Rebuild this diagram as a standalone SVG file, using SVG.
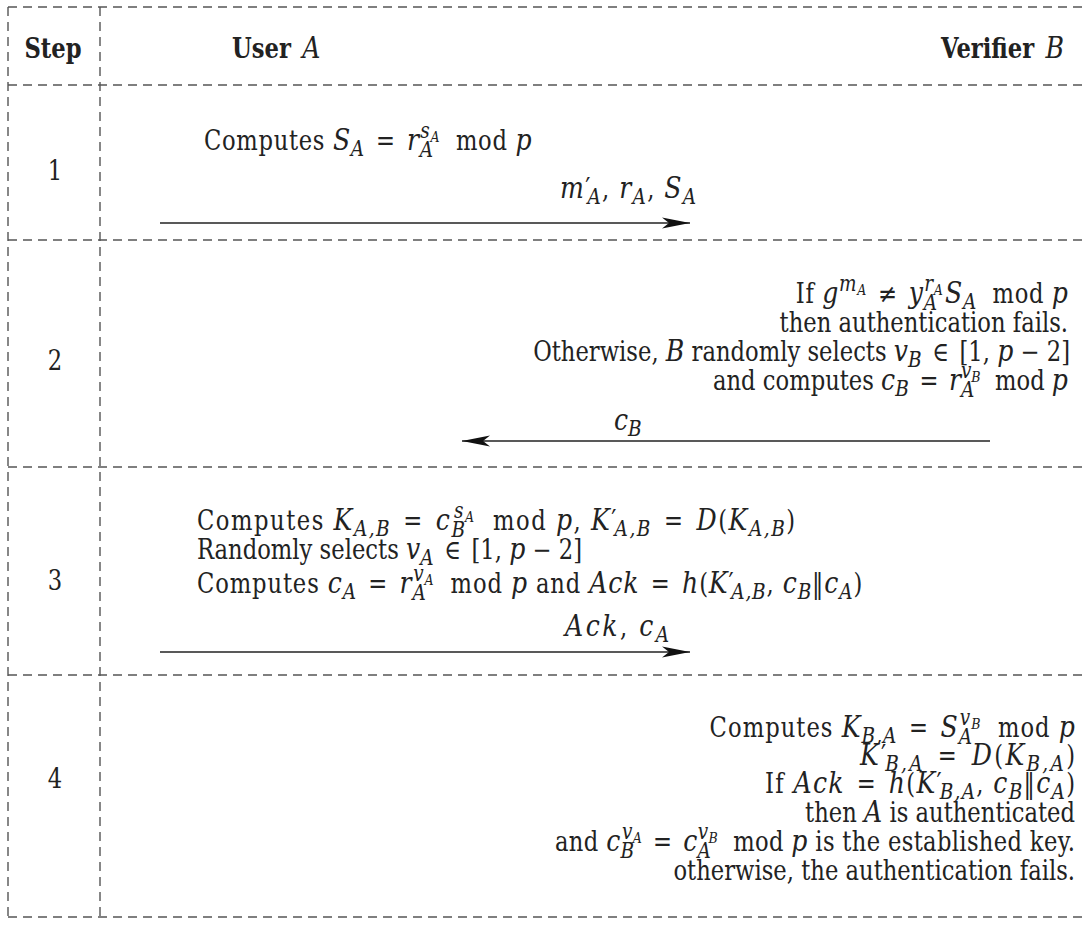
<svg xmlns="http://www.w3.org/2000/svg" width="1082" height="932" viewBox="0 0 1082 932">
<style>
.g{stroke:#555;stroke-width:1.4;stroke-dasharray:9 6;fill:none}
.c{stroke:#222;stroke-width:1.6;fill:none}
.t{font-family:'DejaVu Serif','Liberation Serif',serif;font-size:27px;fill:#222;white-space:pre}
.e{text-anchor:end}
.m{text-anchor:middle}
.b{font-weight:bold}
.i{font-style:italic;font-size:30px;font-weight:normal}
.s{font-size:22px}
.ss{font-size:15px}
</style>
<defs>
<marker id="ah" markerUnits="userSpaceOnUse" markerWidth="30" markerHeight="14" refX="28" refY="7" orient="auto"><path d="M28,7 L0,1.5 L7,7 L0,12.5 Z" fill="#111"/></marker>
</defs>
<rect width="1082" height="932" fill="#fff"/>
<g id="grid">
<path class="g" d="M8,7 H1082 M8,85 H1082 M8,240 H1082 M8,467 H1082 M8,675 H1082 M8,917 H1082 M8,7 V917 M100,7 V917"/>
</g>
<g id="header">
<text transform="translate(53,58) scale(.84,1)" class="t b m">Step</text>
<text transform="translate(232,58) scale(.84,1)" class="t b">User <tspan class="i" dx="4">A</tspan></text>
<text transform="translate(1064,58) scale(.84,1)" class="t b e">Verifier <tspan class="i" dx="4">B</tspan></text>
</g>
<g id="step1">
<text transform="translate(55,180) scale(.84,1)" class="t m">1</text>
<text transform="translate(204,150) scale(.84,1)" class="t" textLength="390" lengthAdjust="spacing">Computes <tspan class="i">S</tspan><tspan class="i s" dy="6">A</tspan><tspan dy="-6" dx="4"> = </tspan><tspan class="i" dx="4">r</tspan><tspan class="i s" dy="7">A</tspan><tspan class="i s" dx="-16" dy="-19">s</tspan><tspan class="i ss" dy="4">A</tspan><tspan dy="8">  mod </tspan><tspan class="i">p</tspan></text>
<text transform="translate(560,198) scale(.84,1)" class="t" textLength="162" lengthAdjust="spacing"><tspan class="i">m</tspan>′<tspan class="i s" dx="-5" dy="6">A</tspan><tspan dy="-6">, </tspan><tspan class="i">r</tspan><tspan class="i s" dy="6">A</tspan><tspan dy="-6">, </tspan><tspan class="i">S</tspan><tspan class="i s" dy="6">A</tspan></text>
</g>
<g id="step2">
<text transform="translate(55,370) scale(.84,1)" class="t m">2</text>
<text transform="translate(1068,303) scale(.84,1)" class="t e" textLength="324" lengthAdjust="spacing">If <tspan class="i">g</tspan><tspan class="i s" dy="-12">m</tspan><tspan class="i ss" dy="4">A</tspan><tspan dy="8" dx="4"> ≠ </tspan><tspan class="i" dx="4">y</tspan><tspan class="i s" dy="7">A</tspan><tspan class="i s" dx="-16" dy="-19">r</tspan><tspan class="i ss" dy="4">A</tspan><tspan class="i" dy="8" dx="2">S</tspan><tspan class="i s" dy="6">A</tspan><tspan dy="-6">  mod </tspan><tspan class="i">p</tspan></text>
<text transform="translate(1068,332) scale(.84,1)" class="t e">then authentication fails.</text>
<text transform="translate(1070,361) scale(.84,1)" class="t e">Otherwise, <tspan class="i">B</tspan> randomly selects <tspan class="i">v</tspan><tspan class="i s" dy="6">B</tspan><tspan dy="-6" dx="4"> ∈ </tspan><tspan dx="4">[1, </tspan><tspan class="i">p</tspan> − 2]</text>
<text transform="translate(1068,390) scale(.84,1)" class="t e">and computes <tspan class="i">c</tspan><tspan class="i s" dy="6">B</tspan><tspan dy="-6" dx="4"> = </tspan><tspan class="i" dx="4">r</tspan><tspan class="i s" dy="7">A</tspan><tspan class="i s" dx="-16" dy="-19">v</tspan><tspan class="i ss" dy="4">B</tspan><tspan dy="8">  mod </tspan><tspan class="i">p</tspan></text>
<text transform="translate(614,430) scale(.84,1)" class="t"><tspan class="i">c</tspan><tspan class="i s" dy="6">B</tspan></text>
</g>
<g id="step3">
<text transform="translate(55,590) scale(.84,1)" class="t m">3</text>
<text transform="translate(197,530) scale(.84,1)" class="t" textLength="712" lengthAdjust="spacing">Computes <tspan class="i">K</tspan><tspan class="i s" dy="6">A,B</tspan><tspan dy="-6" dx="4"> = </tspan><tspan class="i" dx="4">c</tspan><tspan class="i s" dy="7">B</tspan><tspan class="i s" dx="-15" dy="-19">s</tspan><tspan class="i ss" dy="4">A</tspan><tspan dy="8">  mod </tspan><tspan class="i">p</tspan>, <tspan class="i">K</tspan>′<tspan class="i s" dx="-4" dy="6">A,B</tspan><tspan dy="-6" dx="4"> = </tspan><tspan class="i" dx="4">D</tspan>(<tspan class="i">K</tspan><tspan class="i s" dy="6">A,B</tspan><tspan dy="-6">)</tspan></text>
<text transform="translate(197,559) scale(.84,1)" class="t">Randomly selects <tspan class="i">v</tspan><tspan class="i s" dy="6">A</tspan><tspan dy="-6" dx="4"> ∈ </tspan><tspan dx="4">[1, </tspan><tspan class="i">p</tspan> − 2]</text>
<text transform="translate(197,593) scale(.84,1)" class="t" textLength="792" lengthAdjust="spacing">Computes <tspan class="i">c</tspan><tspan class="i s" dy="6">A</tspan><tspan dy="-6" dx="4"> = </tspan><tspan class="i" dx="4">r</tspan><tspan class="i s" dy="7">A</tspan><tspan class="i s" dx="-16" dy="-19">v</tspan><tspan class="i ss" dy="4">A</tspan><tspan dy="8">  mod </tspan><tspan class="i">p</tspan> and <tspan class="i">Ack</tspan><tspan dx="4"> = </tspan><tspan class="i" dx="4">h</tspan>(<tspan class="i">K</tspan>′<tspan class="i s" dx="-4" dy="6">A,B</tspan><tspan dy="-6">, </tspan><tspan class="i">c</tspan><tspan class="i s" dy="6">B</tspan><tspan dy="-6">‖</tspan><tspan class="i">c</tspan><tspan class="i s" dy="6">A</tspan><tspan dy="-6">)</tspan></text>
<text transform="translate(565,636) scale(.84,1)" class="t" textLength="124" lengthAdjust="spacing"><tspan class="i">Ack</tspan>, <tspan class="i">c</tspan><tspan class="i s" dy="6">A</tspan></text>
</g>
<g id="step4">
<text transform="translate(55,788) scale(.84,1)" class="t m">4</text>
<text transform="translate(1075,737) scale(.84,1)" class="t e" textLength="435" lengthAdjust="spacing">Computes <tspan class="i">K</tspan><tspan class="i s" dy="6">B,A</tspan><tspan dy="-6" dx="4"> = </tspan><tspan class="i" dx="4">S</tspan><tspan class="i s" dy="7">A</tspan><tspan class="i s" dx="-16" dy="-19">v</tspan><tspan class="i ss" dy="4">B</tspan><tspan dy="8">  mod </tspan><tspan class="i">p</tspan></text>
<text transform="translate(1075,765) scale(.84,1)" class="t e" textLength="256" lengthAdjust="spacing"><tspan class="i">K</tspan>′<tspan class="i s" dx="-4" dy="6">B,A</tspan><tspan dy="-6" dx="4"> = </tspan><tspan class="i" dx="4">D</tspan>(<tspan class="i">K</tspan><tspan class="i s" dy="6">B,A</tspan><tspan dy="-6">)</tspan></text>
<text transform="translate(1075,793) scale(.84,1)" class="t e" textLength="369" lengthAdjust="spacing">If <tspan class="i">Ack</tspan><tspan dx="4"> = </tspan><tspan class="i" dx="4">h</tspan>(<tspan class="i">K</tspan>′<tspan class="i s" dx="-4" dy="6">B,A</tspan><tspan dy="-6">, </tspan><tspan class="i">c</tspan><tspan class="i s" dy="6">B</tspan><tspan dy="-6">‖</tspan><tspan class="i">c</tspan><tspan class="i s" dy="6">A</tspan><tspan dy="-6">)</tspan></text>
<text transform="translate(1075,822) scale(.84,1)" class="t e">then <tspan class="i">A</tspan> is authenticated</text>
<text transform="translate(1075,851) scale(.84,1)" class="t e" textLength="619" lengthAdjust="spacing">and <tspan class="i">c</tspan><tspan class="i s" dy="7">B</tspan><tspan class="i s" dx="-15" dy="-19">v</tspan><tspan class="i ss" dy="4">A</tspan><tspan dy="8" dx="4"> = </tspan><tspan class="i" dx="4">c</tspan><tspan class="i s" dy="7">A</tspan><tspan class="i s" dx="-16" dy="-19">v</tspan><tspan class="i ss" dy="4">B</tspan><tspan dy="8">  mod </tspan><tspan class="i">p</tspan> is the established key.</text>
<text transform="translate(1075,880) scale(.84,1)" class="t e">otherwise, the authentication fails.</text>
</g>
<g id="connectors">
<line class="c" x1="160" y1="223" x2="690" y2="223" marker-end="url(#ah)"/>
<line class="c" x1="990" y1="441" x2="462" y2="441" marker-end="url(#ah)"/>
<line class="c" x1="160" y1="652" x2="690" y2="652" marker-end="url(#ah)"/>
</g>
</svg>
